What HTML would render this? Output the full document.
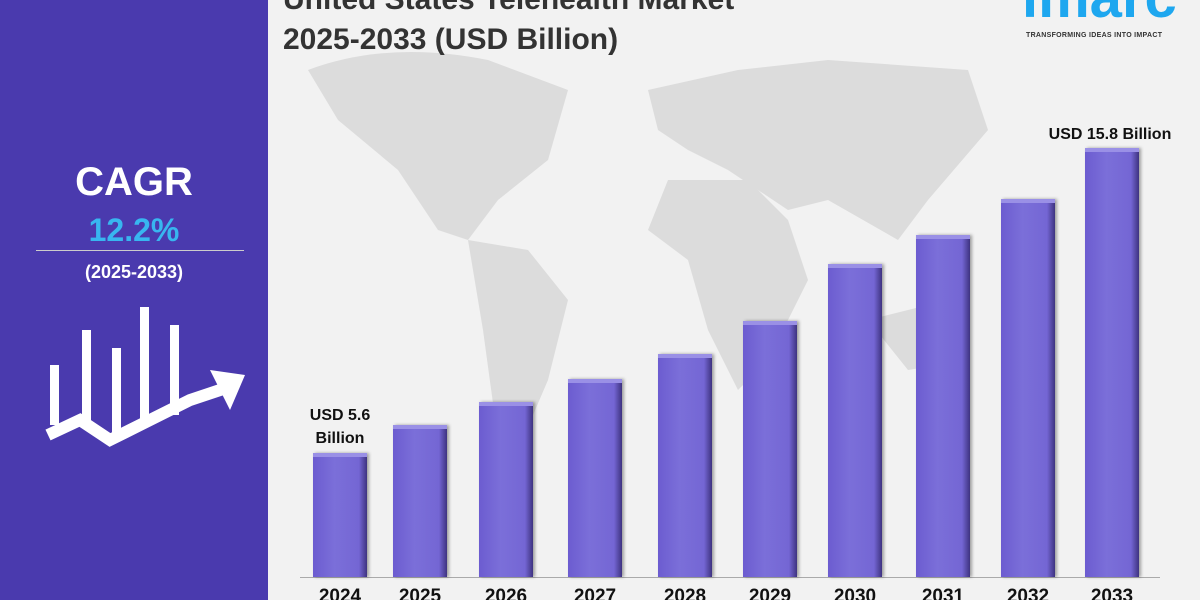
<!DOCTYPE html>
<html style="overflow:hidden;height:600px"><head><style>
body{margin:0;width:1200px;height:600px;overflow:hidden;background:#f2f2f2;font-family:"Liberation Sans",sans-serif;position:relative}
.l{position:absolute;left:0;top:0;width:268px;height:600px;background:#4a3aae}
.t{position:absolute;color:#fff;font-weight:bold;text-align:center;width:268px;left:0}
.bar{position:absolute;width:54px;background:linear-gradient(90deg,#6c5cd0,#7b6fd9 40%,#7466d4 85%,#3e3380);border-top:4px solid #9a90e6;box-shadow:2px 0 3px rgba(0,0,0,.35)}
.yr{position:absolute;top:586px;height:14px;overflow:hidden;width:80px;text-align:center;font-weight:bold;font-size:19px;line-height:22px;color:#111}
.lab{position:absolute;font-weight:bold;font-size:16px;color:#111;text-align:center}
</style></head><body>
<svg style="position:absolute;left:268px;top:0" width="932" height="600">
<g fill="#dcdcdc">
<path d="M40 70 Q120 40 220 60 L300 90 L280 160 L230 200 L200 240 L170 230 L130 170 L70 120Z"/>
<path d="M200 240 L260 250 L300 300 L280 380 L250 450 L230 440 L215 330 Z"/>
<path d="M380 90 L470 70 L560 60 L700 70 L720 130 L660 200 L630 240 L560 200 L520 210 L460 170 L420 150 L390 130Z"/>
<path d="M400 180 L480 180 L520 220 L540 280 L500 360 L470 390 L440 330 L420 260 L380 230Z"/>
<path d="M600 320 L680 300 L700 360 L640 370Z"/>
</g>
</svg>
<div class="l"></div>
<div class="t" style="top:160px;font-size:40px">CAGR</div>
<div class="t" style="top:212px;font-size:32px;color:#38b6f0">12.2%</div>
<div style="position:absolute;left:36px;top:250px;width:208px;height:1px;background:#ccc"></div>
<div class="t" style="top:262px;font-size:18px">(2025-2033)</div>
<svg style="position:absolute;left:40px;top:300px" width="210" height="165">
<g fill="#fff">
<rect x="10" y="65" width="9" height="60"/><rect x="42" y="30" width="9" height="95"/>
<rect x="72" y="48" width="9" height="88"/><rect x="100" y="7" width="9" height="115"/><rect x="130" y="25" width="9" height="90"/>
</g>
<polyline points="8,135 40,120 70,140 100,125 150,100 195,85" fill="none" stroke="#fff" stroke-width="12"/>
<polygon points="170,70 205,75 190,110" fill="#fff"/>
</svg>
<div style="position:absolute;left:283px;top:-20px;font-size:30px;font-weight:bold;color:#333;line-height:40px">United States Telehealth Market<br>2025-2033 (USD Billion)</div>
<div style="position:absolute;left:1022px;top:-36px;font-size:58px;font-weight:bold;color:#1ea7ef">imarc</div>
<div style="position:absolute;left:1026px;top:32px;font-size:7px;font-weight:bold;color:#333;letter-spacing:.3px">TRANSFORMING IDEAS INTO IMPACT</div>
<div style="position:absolute;left:300px;top:577px;width:860px;height:1px;background:#aaa"></div>
<div class="bar" style="left:313px;top:453px;height:120px"></div>
<div class="bar" style="left:393px;top:425px;height:148px"></div>
<div class="bar" style="left:479px;top:402px;height:171px"></div>
<div class="bar" style="left:568px;top:379px;height:194px"></div>
<div class="bar" style="left:658px;top:354px;height:219px"></div>
<div class="bar" style="left:743px;top:321px;height:252px"></div>
<div class="bar" style="left:828px;top:264px;height:309px"></div>
<div class="bar" style="left:916px;top:235px;height:338px"></div>
<div class="bar" style="left:1001px;top:199px;height:374px"></div>
<div class="bar" style="left:1085px;top:148px;height:425px"></div>
<div class="lab" style="left:295px;top:404px;width:90px;line-height:23px">USD 5.6<br>Billion</div>
<div class="lab" style="left:1030px;top:126px;width:160px">USD 15.8 Billion</div>
<div class="yr" style="left:300px">2024</div><div class="yr" style="left:380px">2025</div>
<div class="yr" style="left:466px">2026</div><div class="yr" style="left:555px">2027</div>
<div class="yr" style="left:645px">2028</div><div class="yr" style="left:730px">2029</div>
<div class="yr" style="left:815px">2030</div><div class="yr" style="left:903px">2031</div>
<div class="yr" style="left:988px">2032</div><div class="yr" style="left:1072px">2033</div>
</body></html>
